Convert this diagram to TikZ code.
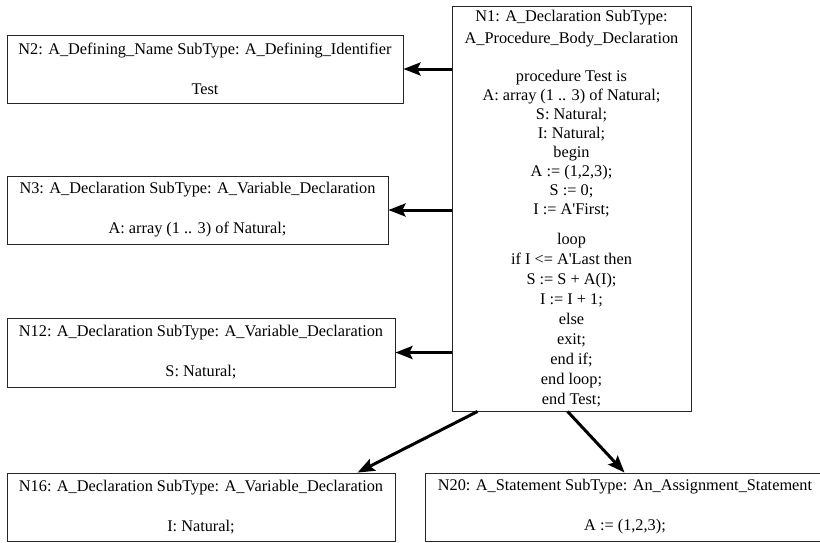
\documentclass[tikz,border=0pt]{standalone}
\usepackage{fontspec}
\newfontfamily\treefont{Liberation Serif}
\usetikzlibrary{arrows.meta,calc}
\begin{document}
\begin{tikzpicture}[x=1pt,y=-1pt,
  treenode/.style={draw=black!85, line width=0.9pt, inner sep=0pt, align=center,
    font=\treefont\fontsize{16.3}{19}\selectfont},
  link/.style={line width=3pt, -{Stealth[length=17pt,width=13pt,inset=3pt]}}]
\useasboundingbox (0,0) rectangle (820,542);

% root: the procedure body
\node[treenode, minimum width=239pt, minimum height=405pt] (N1) at (571.5,208.5)
  {N1: A\_Declaration SubType:\\[3pt] A\_Procedure\_Body\_Declaration\\[19pt]
   procedure Test is\\ A: array (1 .. 3) of Natural;\\ S: Natural;\\ I: Natural;\\
   begin\\ A := (1,2,3);\\ S := 0;\\ I := A'First;\\[11pt]
   loop\\[1pt] if I <= A'Last then\\[1pt] S := S + A(I);\\[1pt] I := I + 1;\\[1pt]
   else\\[1pt] exit;\\[1pt] end if;\\[1pt] end loop;\\[1pt] end Test;};

% children
\node[treenode, minimum width=396pt, minimum height=68pt] (N2) at (205,69)
  {N2: A\_Defining\_Name SubType: A\_Defining\_Identifier\\[21pt] Test};
\node[treenode, minimum width=381pt, minimum height=68pt] (N3) at (197.5,210)
  {N3: A\_Declaration SubType: A\_Variable\_Declaration\\[21pt] A: array (1 .. 3) of Natural;};
\node[treenode, minimum width=388pt, minimum height=69pt] (N12) at (201,352.5)
  {N12: A\_Declaration SubType: A\_Variable\_Declaration\\[21pt] S: Natural;};
\node[treenode, minimum width=388pt, minimum height=68pt] (N16) at (201,507)
  {N16: A\_Declaration SubType: A\_Variable\_Declaration\\[21pt] I: Natural;};
\node[treenode, minimum width=400pt, minimum height=68pt] (N20) at (625,507)
  {N20: A\_Statement SubType: An\_Assignment\_Statement\\[21pt] A := (1,2,3);};

% edges
\draw[link] (N1.west |- N2.east) -- (N2.east);
\draw[link] (N1.west |- N3.east) -- (N3.east);
\draw[link] (N1.west |- N12.east) -- (N12.east);
\draw[link] ($(N1.south west)+(26,0)$) -- ($(N16.north west)+(351,0)$);
\draw[link] ($(N1.south west)+(116,0)$) -- ($(N20.north west)+(200,0)$);
\end{tikzpicture}
\end{document}
